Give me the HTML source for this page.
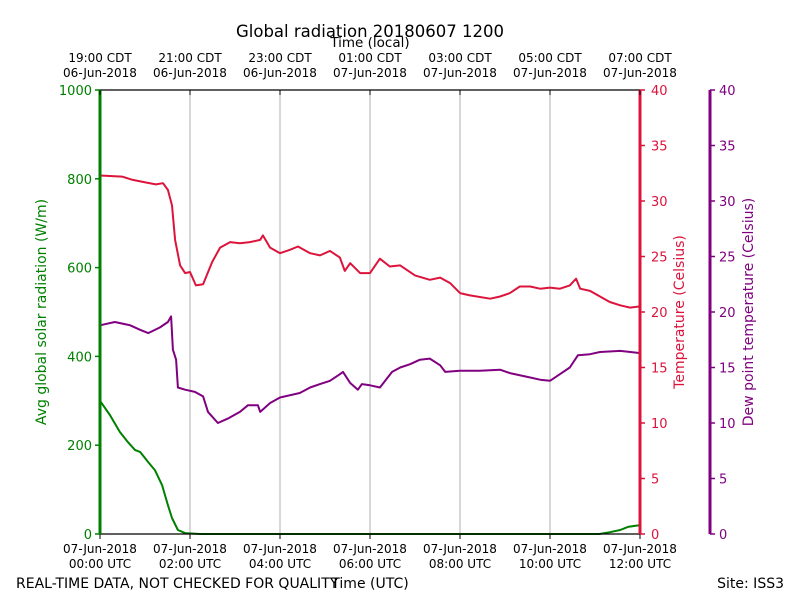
<!DOCTYPE html>
<html><head><meta charset="utf-8"><style>
body{margin:0;background:#fff}
svg{display:block;font-family:"DejaVu Sans","Liberation Sans",sans-serif}
</style></head><body>
<svg id="c" width="800" height="600" viewBox="0 0 800 600">
<rect width="800" height="600" fill="#fff"/>
<g id="grid"></g>
<g id="series"></g>
<g id="axes"></g>
<text x="370" y="37" font-size="16.5" text-anchor="middle">Global radiation 20180607 1200</text>
<text x="370" y="47" font-size="13.5" text-anchor="middle">Time (local)</text>
<text x="370" y="588" font-size="14" text-anchor="middle">Time (UTC)</text>
<text x="16" y="588" font-size="14">REAL-TIME DATA, NOT CHECKED FOR QUALITY</text>
<text x="784" y="588" font-size="14" text-anchor="end">Site: ISS3</text>
<text transform="translate(46,312) rotate(-90)" font-size="14" fill="green" text-anchor="middle">Avg global solar radiation (W/m)</text>
<text transform="translate(684,312) rotate(-90)" font-size="14" fill="crimson" text-anchor="middle">Temperature (Celsius)</text>
<text transform="translate(753,312) rotate(-90)" font-size="14" fill="purple" text-anchor="middle">Dew point temperature (Celsius)</text>
</svg>
<script>
const utcLabels=["07-Jun-2018|00:00 UTC","07-Jun-2018|02:00 UTC","07-Jun-2018|04:00 UTC","07-Jun-2018|06:00 UTC","07-Jun-2018|08:00 UTC","07-Jun-2018|10:00 UTC","07-Jun-2018|12:00 UTC"];
const localLabels=["19:00 CDT|06-Jun-2018","21:00 CDT|06-Jun-2018","23:00 CDT|06-Jun-2018","01:00 CDT|07-Jun-2018","03:00 CDT|07-Jun-2018","05:00 CDT|07-Jun-2018","07:00 CDT|07-Jun-2018"];
const radTicks=[0,200,400,600,800,1000];
const tempTicks=[0,5,10,15,20,25,30,35,40];
const tempHours=[0,0.49,0.73,0.98,1.24,1.4,1.51,1.6,1.67,1.78,1.89,2.0,2.13,2.29,2.49,2.67,2.89,3.11,3.33,3.56,3.62,3.78,4.0,4.22,4.4,4.67,4.89,5.11,5.33,5.44,5.56,5.78,6.0,6.22,6.44,6.67,7.0,7.33,7.56,7.78,8.0,8.22,8.67,8.89,9.11,9.33,9.56,9.78,10.0,10.22,10.44,10.58,10.67,10.89,11.11,11.33,11.56,11.78,12];
const tempVals=[32.3,32.2,31.9,31.7,31.5,31.6,31.0,29.6,26.5,24.2,23.5,23.6,22.4,22.5,24.5,25.8,26.3,26.2,26.3,26.5,26.9,25.8,25.3,25.6,25.9,25.3,25.1,25.5,24.9,23.7,24.4,23.5,23.5,24.8,24.1,24.2,23.3,22.9,23.1,22.6,21.7,21.5,21.2,21.4,21.7,22.3,22.3,22.1,22.2,22.1,22.4,23.0,22.1,21.9,21.4,20.9,20.6,20.4,20.5];
const dewHours=[0,0.33,0.67,0.89,1.07,1.33,1.51,1.58,1.62,1.69,1.73,1.89,2.11,2.29,2.4,2.62,2.84,3.11,3.29,3.51,3.56,3.78,4.0,4.44,4.67,4.89,5.11,5.33,5.4,5.56,5.73,5.82,6.0,6.22,6.49,6.67,6.89,7.11,7.33,7.56,7.67,8.0,8.44,8.89,9.11,9.56,9.78,10.0,10.22,10.44,10.62,10.89,11.11,11.56,12];
const dewVals=[18.8,19.1,18.8,18.4,18.1,18.6,19.1,19.6,16.6,15.7,13.2,13.0,12.8,12.4,11.0,10.0,10.4,11.0,11.6,11.6,11.0,11.8,12.3,12.7,13.2,13.5,13.8,14.4,14.6,13.6,13.0,13.5,13.4,13.2,14.6,15.0,15.3,15.7,15.8,15.2,14.6,14.7,14.7,14.8,14.5,14.1,13.9,13.8,14.4,15.0,16.1,16.2,16.4,16.5,16.3];
const radHours=[0,0.22,0.44,0.62,0.78,0.89,1.07,1.22,1.38,1.51,1.6,1.73,1.89,2.22,4,8,11.1,11.33,11.56,11.73,12];
const radVals=[300,268,230,207,189,185,162,144,110,65,36,9,2,0,0,0,0,4,9,16,20];

const NS="http://www.w3.org/2000/svg";
const L=100,R=640,T=90,B=534;
const xs=h=>L+(R-L)*h/12;
const yRad=v=>B-(B-T)*v/1000;
const yT=v=>B-(B-T)*v/40;
function mk(tag,attrs,parent,text){const e=document.createElementNS(NS,tag);for(const k in attrs)e.setAttribute(k,attrs[k]);if(text!==undefined)e.textContent=text;parent.appendChild(e);return e;}
const grid=document.getElementById('grid'),ser=document.getElementById('series'),ax=document.getElementById('axes');
for(let i=1;i<utcLabels.length-1;i++){const g=mk('line',{x1:xs(i*2),x2:xs(i*2),y1:T,y2:B,stroke:'#b0b0b0','stroke-width':1},grid);

}
function line(hs,vs,yf,col,w,name){const d=hs.map((h,i)=>(i?'L':'M')+xs(h).toFixed(1)+','+yf(vs[i]).toFixed(1)).join('');
const p=mk('path',{d:d,fill:'none',stroke:col,'stroke-width':w,'stroke-linejoin':'round'},ser);

}
line(tempHours,tempVals,yT,'crimson',2,'temperature-line');
line(dewHours,dewVals,yT,'purple',2,'dewpoint-line');
line(radHours,radVals,yRad,'green',2,'radiation-line');
mk('line',{x1:L,x2:R,y1:T,y2:T,stroke:'#000','stroke-width':1.2},ax);
mk('line',{x1:L,x2:R,y1:B,y2:B,stroke:'#000','stroke-width':1.2},ax);
mk('line',{x1:L,x2:L,y1:T,y2:B,stroke:'green','stroke-width':3},ax);
mk('line',{x1:R,x2:R,y1:T,y2:B,stroke:'crimson','stroke-width':3},ax);
mk('line',{x1:710,x2:710,y1:T,y2:B,stroke:'purple','stroke-width':3},ax);
utcLabels.forEach((s,i)=>{const x=xs(i*2);mk('line',{x1:x,x2:x,y1:B,y2:B+5,stroke:'#000'},ax);
const parts=s.split('|');
const t=mk('text',{x:x,y:553,'font-size':12,'text-anchor':'middle'},ax,parts[0]);


mk('text',{x:x,y:568,'font-size':12,'text-anchor':'middle'},ax,parts[1]);});
localLabels.forEach((s,i)=>{const x=xs(i*2);mk('line',{x1:x,x2:x,y1:T,y2:T+5,stroke:'#000'},ax);
const parts=s.split('|');
const t=mk('text',{x:x,y:62,'font-size':12,'text-anchor':'middle'},ax,parts[0]);


mk('text',{x:x,y:77,'font-size':12,'text-anchor':'middle'},ax,parts[1]);});
radTicks.forEach(v=>{const y=yRad(v);mk('line',{x1:L-5,x2:L,y1:y,y2:y,stroke:'green','stroke-width':1.5},ax);
const t=mk('text',{x:L-8,y:y+5,'font-size':13,fill:'green','text-anchor':'end'},ax,v);

});
tempTicks.forEach(v=>{const y=yT(v);mk('line',{x1:R,x2:R+5,y1:y,y2:y,stroke:'crimson','stroke-width':1.5},ax);
const t=mk('text',{x:R+11,y:y+5,'font-size':13,fill:'crimson'},ax,v);


mk('line',{x1:710,x2:715,y1:y,y2:y,stroke:'purple','stroke-width':1.5},ax);
const u=mk('text',{x:719,y:y+5,'font-size':13,fill:'purple'},ax,v);

});
</script>
</body></html>
